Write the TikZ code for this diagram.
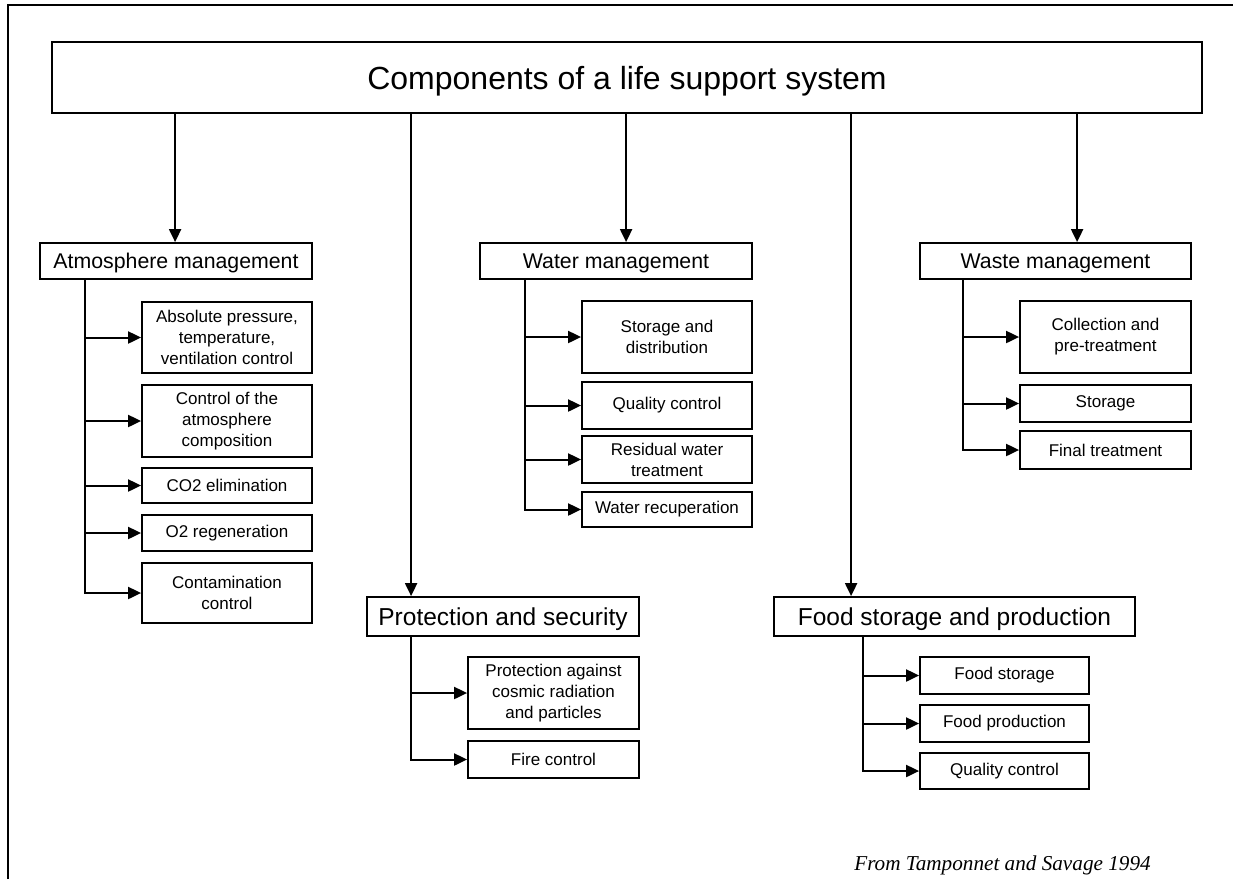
\documentclass[tikz,border=0pt]{standalone}
\usepackage{fontspec}
\setmainfont{Liberation Sans}
\newfontfamily\citefont{Liberation Serif}
\usetikzlibrary{arrows.meta}
\begin{document}
\begin{tikzpicture}[x=1pt,y=-1pt,
  box/.style={draw, line width=1.8pt, rectangle, inner sep=0pt, align=center},
  topbox/.style={box, text depth=0pt, font=\fontsize{32}{38}\selectfont},
  catbox/.style={box, text depth=0pt, font=\fontsize{21.3}{25}\selectfont},
  catboxb/.style={box, text depth=0pt, font=\fontsize{24.5}{29}\selectfont},
  subbox/.style={box, font=\fontsize{17}{21}\selectfont},
  arr/.style={line width=2pt, -{Triangle[length=13pt,width=12pt]}},
  frameline/.style={line width=2.4pt}]
\useasboundingbox (0,0) rectangle (1233,879);
\draw[frameline] (8,879) -- (8,5) -- (1233,5);

% top
\node[topbox, minimum width=1150pt, minimum height=71pt] (top) at (627,77.5) {Components of a life support system};

% categories
\node[catbox, minimum width=272pt, minimum height=36pt] (atm) at (176,261) {Atmosphere management};
\node[catbox, minimum width=272pt, minimum height=36pt] (wat) at (616,261) {Water management};
\node[catbox, minimum width=271pt, minimum height=36pt] (was) at (1055.5,261) {Waste management};
\node[catboxb, minimum width=272pt, minimum height=39pt] (pro) at (503,616.5) {Protection and security};
\node[catboxb, minimum width=361pt, minimum height=39pt] (foo) at (954.5,616.5) {Food storage and production};

% atmosphere children
\node[subbox, minimum width=170pt, minimum height=71pt] (a1) at (227,337.5) {Absolute pressure,\\temperature,\\ventilation control};
\node[subbox, minimum width=170pt, minimum height=72pt] (a2) at (227,421) {Control of the\\atmosphere\\composition};
\node[subbox, minimum width=170pt, minimum height=35pt] (a3) at (227,485.5) {CO2 elimination};
\node[subbox, minimum width=170pt, minimum height=36pt] (a4) at (227,533) {O2 regeneration};
\node[subbox, minimum width=170pt, minimum height=60pt] (a5) at (227,593) {Contamination\\control};

% water children
\node[subbox, minimum width=170pt, minimum height=72pt] (w1) at (667,337) {Storage and\\distribution};
\node[subbox, minimum width=170pt, minimum height=47pt] (w2) at (667,405.5) {Quality control};
\node[subbox, minimum width=170pt, minimum height=47pt] (w3) at (667,459.5) {Residual water\\treatment};
\node[subbox, minimum width=170pt, minimum height=35pt] (w4) at (667,509.5) {Water recuperation};

% waste children
\node[subbox, minimum width=171pt, minimum height=72pt] (s1) at (1105.5,337) {Collection and\\pre-treatment};
\node[subbox, minimum width=171pt, minimum height=37pt] (s2) at (1105.5,403.5) {Storage};
\node[subbox, minimum width=171pt, minimum height=38pt] (s3) at (1105.5,450) {Final treatment};

% protection children
\node[subbox, minimum width=171pt, minimum height=72pt] (p1) at (553.5,693) {Protection against\\cosmic radiation\\and particles};
\node[subbox, minimum width=171pt, minimum height=37pt] (p2) at (553.5,759.5) {Fire control};

% food children
\node[subbox, minimum width=169pt, minimum height=37pt] (f1) at (1004.5,675.5) {Food storage};
\node[subbox, minimum width=169pt, minimum height=37pt] (f2) at (1004.5,723.5) {Food production};
\node[subbox, minimum width=169pt, minimum height=36pt] (f3) at (1004.5,771) {Quality control};

% arrows from top
\coordinate (ta) at ([xshift=136pt]atm.north west);
\coordinate (tw) at ([xshift=147pt]wat.north west);
\coordinate (ts) at ([xshift=158pt]was.north west);
\coordinate (tp) at ([xshift=45pt]pro.north west);
\coordinate (tf) at ([xshift=78pt]foo.north west);
\foreach \c in {ta,tw,ts,tp,tf}
  \draw[arr] (top.south -| \c) -- (\c);

% stems
\coordinate (sa) at ([xshift=46pt]atm.south west);
\coordinate (sw) at ([xshift=46pt]wat.south west);
\coordinate (ss) at ([xshift=44pt]was.south west);
\coordinate (sp) at ([xshift=45pt]pro.south west);
\coordinate (sf) at ([xshift=90pt]foo.south west);
\foreach \c in {a1,a2,a3,a4,a5} \draw[arr] (sa) |- (\c.west);
\foreach \c in {w1,w2,w3,w4} \draw[arr] (sw) |- (\c.west);
\foreach \c in {s1,s2,s3} \draw[arr] (ss) |- (\c.west);
\foreach \c in {p1,p2} \draw[arr] (sp) |- (\c.west);
\foreach \c in {f1,f2,f3} \draw[arr] (sf) |- (\c.west);

% citation
\node[anchor=base, inner sep=0pt, font=\citefont\itshape\fontsize{21.2}{25}\selectfont] (cite) at (1002.5,870) {From Tamponnet and Savage 1994};
\end{tikzpicture}
\end{document}
